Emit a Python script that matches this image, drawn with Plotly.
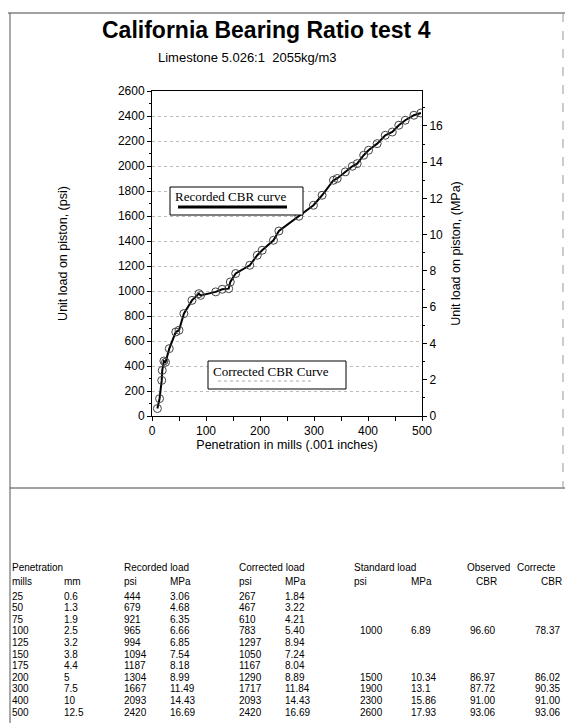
import plotly.graph_objects as go

# ---- chart data ----
penetration_mils = [10, 14, 18, 19, 22, 25, 32, 44, 50, 59, 74, 87, 90, 118, 130, 142, 145, 155,
                    181, 195, 204, 225, 235, 272, 299, 315, 336, 343, 358, 371, 380, 392, 401,
                    417, 432, 445, 457, 469, 485, 498]
recorded_psi = [60, 139, 285, 365, 440, 430, 539, 672, 686, 819, 925, 979, 965, 993, 1014, 1019,
                1072, 1140, 1206, 1286, 1326, 1406, 1480, 1598, 1686, 1766, 1886, 1900, 1953,
                1998, 2019, 2086, 2126, 2179, 2246, 2272, 2326, 2366, 2406, 2424]
PSI_PER_MPA = 145.038

# ---- table data ----
tbl_mills = ["25", "50", "75", "100", "125", "150", "175", "200", "300", "400", "500"]
tbl_mm = ["0.6", "1.3", "1.9", "2.5", "3.2", "3.8", "4.4", "5", "7.5", "10", "12.5"]
tbl_rec_psi = ["444", "679", "921", "965", "994", "1094", "1187", "1304", "1667", "2093", "2420"]
tbl_rec_mpa = ["3.06", "4.68", "6.35", "6.66", "6.85", "7.54", "8.18", "8.99", "11.49", "14.43", "16.69"]
tbl_cor_psi = ["267", "467", "610", "783", "1297", "1050", "1167", "1290", "1717", "2093", "2420"]
tbl_cor_mpa = ["1.84", "3.22", "4.21", "5.40", "8.94", "7.24", "8.04", "8.89", "11.84", "14.43", "16.69"]
tbl_std_psi = ["", "", "", "1000", "", "", "", "1500", "1900", "2300", "2600"]
tbl_std_mpa = ["", "", "", "6.89", "", "", "", "10.34", "13.1", "15.86", "17.93"]
tbl_obs_cbr = ["", "", "", "96.60", "", "", "", "86.97", "87.72", "91.00", "93.06"]
tbl_cor_cbr = ["", "", "", "78.37", "", "", "", "86.02", "90.35", "91.00", "93.06"]
header1 = [("Penetration", 10), ("Recorded load", 122), ("Corrected load", 237),
           ("Standard load", 352), ("Observed", 465), ("Correcte", 515)]
header2 = [("mills", 10), ("mm", 62), ("psi", 122), ("MPa", 168), ("psi", 237), ("MPa", 283),
           ("psi", 352), ("MPa", 409), ("CBR", 474), ("CBR", 539)]

W, H = 565, 723
L, R, T, B = 152, 422, 91, 416


def px(x):
    return (x - L) / (R - L)


def py(y):
    return (B - y) / (B - T)


fig = go.Figure()
fig.add_trace(go.Scatter(
    x=penetration_mils, y=recorded_psi, mode="lines+markers",
    line=dict(color="black", width=2),
    marker=dict(symbol="circle-open", size=8, color="#444", line=dict(width=1)),
    showlegend=False))
fig.add_trace(go.Scatter(
    x=penetration_mils, y=[v / PSI_PER_MPA for v in recorded_psi], yaxis="y2",
    mode="lines", line=dict(width=0), opacity=0, showlegend=False, hoverinfo="skip"))

font_sans = "Liberation Sans, Arial, sans-serif"
fig.update_layout(
    width=W, height=H, margin=dict(l=L, r=W - R, t=T, b=H - B),
    paper_bgcolor="white", plot_bgcolor="white",
    font=dict(family=font_sans, color="black", size=12),
    xaxis=dict(range=[0, 500], dtick=100, showgrid=False, zeroline=False,
               showline=True, linecolor="black", linewidth=1, mirror=True,
               ticks="outside", ticklen=4, tickcolor="black",
               minor=dict(dtick=50, ticks="outside", ticklen=4, tickcolor="black"),
               tickfont=dict(size=12),
               title=dict(text="Penetration in mills (.001 inches)", font=dict(size=12.5), standoff=2)),
    yaxis=dict(range=[0, 2600], dtick=200, showgrid=True, gridcolor="#bbb", griddash="dot",
               gridwidth=1, zeroline=False, showline=True, linecolor="black", linewidth=1,
               ticks="outside", ticklen=4, tickcolor="black",
               minor=dict(dtick=100, ticks="outside", ticklen=2, tickcolor="black"),
               tickfont=dict(size=12),
               title=dict(text="Unit load on piston, (psi)", font=dict(size=12.5), standoff=47)),
    yaxis2=dict(range=[0, 2600 / PSI_PER_MPA], dtick=2, overlaying="y", side="right",
                showgrid=False, zeroline=False, showline=True, linecolor="black", linewidth=1,
                ticks="outside", ticklen=4, tickcolor="black",
                minor=dict(dtick=1, ticks="outside", ticklen=2, tickcolor="black"),
                tickfont=dict(size=12),
                title=dict(text="Unit load on piston, (MPa)", font=dict(size=12.5), standoff=9)),
)

ann = []
ann.append(dict(text="<b>California Bearing Ratio test 4</b>", x=px(266), y=py(30),
                font=dict(size=23)))
ann.append(dict(text="Limestone 5.026:1  2055kg/m3", x=px(247), y=py(57), font=dict(size=13)))
for a in ann:
    a.update(xref="paper", yref="paper", showarrow=False, xanchor="center", yanchor="middle")

# legend box texts
serif = "Liberation Serif, Times New Roman, serif"
ann.append(dict(text="Recorded CBR curve", xref="paper", yref="paper", x=px(173), y=py(196),
                xanchor="left", yanchor="middle", showarrow=False,
                font=dict(family=serif, size=13)))
ann.append(dict(text="Corrected CBR Curve", xref="paper", yref="paper", x=px(211), y=py(371),
                xanchor="left", yanchor="middle", showarrow=False,
                font=dict(family=serif, size=13)))

# table
tfont = dict(family=font_sans, size=10, color="black")
start = len(ann)
for text, xp in header1:
    ann.append(dict(text=text, x=px(xp), y=py(567)))
for text, xp in header2:
    ann.append(dict(text=text, x=px(xp), y=py(581)))
cols = [(tbl_mills, 10), (tbl_mm, 62), (tbl_rec_psi, 122), (tbl_rec_mpa, 168),
        (tbl_cor_psi, 237), (tbl_cor_mpa, 283), (tbl_std_psi, 358), (tbl_std_mpa, 409),
        (tbl_obs_cbr, 468), (tbl_cor_cbr, 533)]
for col, xp in cols:
    for i, v in enumerate(col):
        if v:
            ann.append(dict(text=v, x=px(xp), y=py(596 + i * 11.6)))
for a in ann[start:]:
    a.update(xref="paper", yref="paper", showarrow=False, xanchor="left", yanchor="middle",
             font=tfont)

fig.update_layout(annotations=ann)

shapes = [
    dict(type="rect", x0=px(170), x1=px(303), y0=py(187), y1=py(215),
         line=dict(color="black", width=1), fillcolor="white"),
    dict(type="line", x0=px(178), x1=px(287), y0=py(207), y1=py(207),
         line=dict(color="black", width=3)),
    dict(type="rect", x0=px(208), x1=px(346), y0=py(361), y1=py(389),
         line=dict(color="black", width=1), fillcolor="white"),
    dict(type="line", x0=px(218), x1=px(312), y0=py(381), y1=py(381),
         line=dict(color="#aaa", width=1, dash="dot")),
    # page frame
    dict(type="line", x0=px(8), x1=px(565), y0=py(13), y1=py(13), line=dict(color="#444", width=1)),
    dict(type="line", x0=px(10), x1=px(10), y0=py(13), y1=py(723), line=dict(color="#555", width=1)),
    dict(type="line", x0=px(10), x1=px(565), y0=py(488), y1=py(488), line=dict(color="#444", width=1)),
    dict(type="line", x0=px(563), x1=px(563), y0=py(13), y1=py(488),
         line=dict(color="#999", width=1, dash="dash")),
]
for s in shapes:
    s.update(xref="paper", yref="paper", layer="above")
fig.update_layout(shapes=shapes)

fig.write_html("out.html", config={"displayModeBar": False},
               post_script="document.body.style.margin='0';document.body.style.overflow='hidden';")
